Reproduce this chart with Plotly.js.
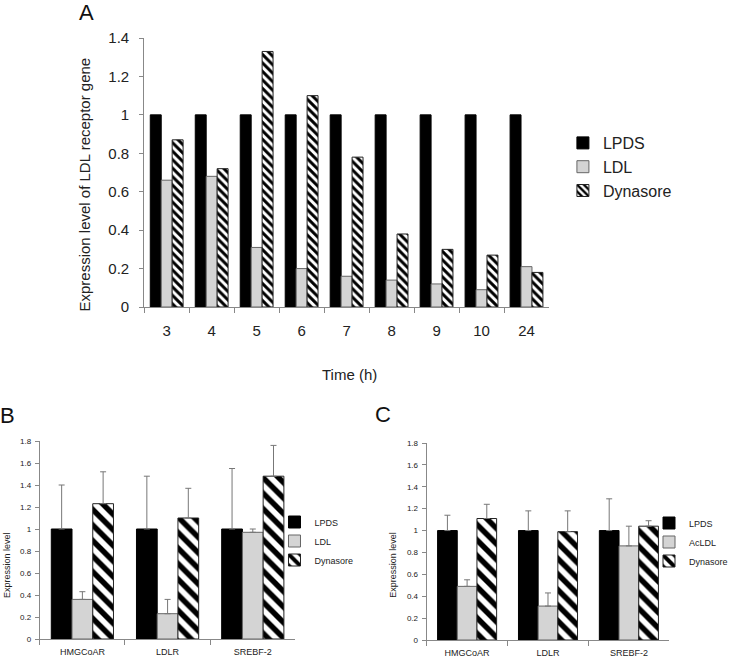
<!DOCTYPE html>
<html>
<head>
<meta charset="utf-8">
<script src="https://cdn.plot.ly/plotly-3.0.1.min.js"></script>
<style>html,body{margin:0;padding:0;background:#fff;}#chart{width:733px;height:664px;}</style>
</head>
<body>
<div id="chart"></div>
<script>
// Panel A data
const timeCats = ['3','4','5','6','7','8','9','10','24'];
const aLPDS = [1, 1, 1, 1, 1, 1, 1, 1, 1];
const aLDL = [0.66, 0.68, 0.31, 0.20, 0.16, 0.14, 0.12, 0.09, 0.21];
const aDyn = [0.87, 0.72, 1.33, 1.10, 0.78, 0.38, 0.30, 0.27, 0.18];

// Panel B data
const geneCats = ['HMGCoAR', 'LDLR', 'SREBF-2'];
const bLPDS = [1.0, 1.0, 1.0];
const bLPDSerr = [0.40, 0.48, 0.55];
const bLDL = [0.36, 0.23, 0.97];
const bLDLerr = [0.07, 0.13, 0.03];
const bDyn = [1.23, 1.10, 1.48];
const bDynerr = [0.29, 0.27, 0.28];

// Panel C data
const cLPDS = [1.0, 1.0, 1.0];
const cLPDSerr = [0.14, 0.18, 0.29];
const cAcLDL = [0.49, 0.31, 0.86];
const cAcLDLerr = [0.06, 0.12, 0.18];
const cDyn = [1.11, 0.99, 1.04];
const cDynerr = [0.13, 0.19, 0.05];

const W = 733, H = 664;
const px = v => v / W;
const py = v => 1 - v / H;

const FONT = 'Liberation Sans, Arial, sans-serif';
const GRAY = '#d4d4d4';

function errY(arr) {
  return {type: 'data', symmetric: false, array: arr, arrayminus: arr.map(() => 0),
          color: '#777', thickness: 1, width: 3};
}

const traces = [
  // A
  {type: 'bar', x: timeCats, y: aLPDS, name: 'LPDS', xaxis: 'x', yaxis: 'y', legend: 'legend',
   marker: {color: '#000', line: {color: '#000', width: 1}}},
  {type: 'bar', x: timeCats, y: aLDL, name: 'LDL', xaxis: 'x', yaxis: 'y', legend: 'legend',
   marker: {color: GRAY, line: {color: '#666', width: 1}}},
  {type: 'bar', x: timeCats, y: aDyn, name: 'Dynasore', xaxis: 'x', yaxis: 'y', legend: 'legend',
   marker: {color: '#fff', line: {color: '#222', width: 1},
            pattern: {shape: '\\', fgcolor: '#000', bgcolor: '#fff', size: 6, solidity: 0.5}}},
  // B
  {type: 'bar', x: geneCats, y: bLPDS, name: 'LPDS', xaxis: 'x2', yaxis: 'y2', legend: 'legend2',
   error_y: errY(bLPDSerr), marker: {color: '#000', line: {color: '#000', width: 1}}},
  {type: 'bar', x: geneCats, y: bLDL, name: 'LDL', xaxis: 'x2', yaxis: 'y2', legend: 'legend2',
   error_y: errY(bLDLerr), marker: {color: GRAY, line: {color: '#666', width: 1}}},
  {type: 'bar', x: geneCats, y: bDyn, name: 'Dynasore', xaxis: 'x2', yaxis: 'y2', legend: 'legend2',
   error_y: errY(bDynerr),
   marker: {color: '#fff', line: {color: '#222', width: 1},
            pattern: {shape: '\\', fgcolor: '#000', bgcolor: '#fff', size: 11, solidity: 0.5}}},
  // C
  {type: 'bar', x: geneCats, y: cLPDS, name: 'LPDS', xaxis: 'x3', yaxis: 'y3', legend: 'legend3',
   error_y: errY(cLPDSerr), marker: {color: '#000', line: {color: '#000', width: 1}}},
  {type: 'bar', x: geneCats, y: cAcLDL, name: 'AcLDL', xaxis: 'x3', yaxis: 'y3', legend: 'legend3',
   error_y: errY(cAcLDLerr), marker: {color: GRAY, line: {color: '#666', width: 1}}},
  {type: 'bar', x: geneCats, y: cDyn, name: 'Dynasore', xaxis: 'x3', yaxis: 'y3', legend: 'legend3',
   error_y: errY(cDynerr),
   marker: {color: '#fff', line: {color: '#222', width: 1},
            pattern: {shape: '\\', fgcolor: '#000', bgcolor: '#fff', size: 11, solidity: 0.5}}}
];

function xAx(domain, fs, anchor, standoff) {
  return {domain: domain, anchor: anchor, type: 'category', showgrid: false, zeroline: false,
          showline: true, linecolor: '#888', linewidth: 1, ticks: 'outside', tickson: 'boundaries',
          ticklen: 5, tickcolor: '#888', tickfont: {family: FONT, size: fs, color: '#222'},
          ticklabelstandoff: standoff, fixedrange: true};
}
function yAx(domain, range, dtick, fs, anchor, standoff) {
  return {domain: domain, anchor: anchor, range: range, dtick: dtick, showgrid: false, zeroline: false,
          showline: true, linecolor: '#888', linewidth: 1, ticks: 'outside', ticklen: 4,
          tickcolor: '#888', tickfont: {family: FONT, size: fs, color: '#222'},
          ticklabelstandoff: standoff, fixedrange: true};
}

const layout = {
  width: W, height: H,
  margin: {l: 0, r: 0, t: 0, b: 0},
  paper_bgcolor: '#fff', plot_bgcolor: '#fff',
  barmode: 'group', bargap: 0.27, bargroupgap: 0,
  font: {family: FONT, color: '#222'},
  xaxis: xAx([px(145), px(552)], 15, 'y', 10),
  yaxis: yAx([py(307), py(38)], [0, 1.4], 0.2, 15, 'x', 7),
  xaxis2: xAx([px(40), px(297)], 9, 'y2', 4),
  yaxis2: yAx([py(639), py(441)], [0, 1.8], 0.2, 8, 'x2', 2),
  xaxis3: xAx([px(429), px(673)], 9, 'y3', 4),
  yaxis3: yAx([py(640), py(443)], [0, 1.8], 0.2, 8, 'x3', 2),
  legend: {x: px(566), y: py(167), xanchor: 'left', yanchor: 'middle', bgcolor: 'rgba(0,0,0,0)',
           font: {family: FONT, size: 16, color: '#222'}, tracegroupgap: 0},
  legend2: {x: px(276), y: py(541), xanchor: 'left', yanchor: 'middle', bgcolor: 'rgba(0,0,0,0)',
            font: {family: FONT, size: 9, color: '#222'}, tracegroupgap: 0},
  legend3: {x: px(653), y: py(542), xanchor: 'left', yanchor: 'middle', bgcolor: 'rgba(0,0,0,0)',
            font: {family: FONT, size: 9, color: '#222'}, tracegroupgap: 0},
  showlegend: true,
  annotations: [
    {text: 'A', xref: 'paper', yref: 'paper', x: px(87), y: py(12), showarrow: false,
     font: {family: FONT, size: 22, color: '#111'}, xanchor: 'center', yanchor: 'middle'},
    {text: 'Expression level of LDL receptor gene', xref: 'paper', yref: 'paper', x: px(84), y: py(185),
     textangle: -90, showarrow: false, font: {family: FONT, size: 15, color: '#222'},
     xanchor: 'center', yanchor: 'middle'},
    {text: 'Time (h)', xref: 'paper', yref: 'paper', x: px(351), y: py(374), showarrow: false,
     font: {family: FONT, size: 15, color: '#222'}, xanchor: 'center', yanchor: 'middle'},
    {text: 'B', xref: 'paper', yref: 'paper', x: px(8), y: py(415), showarrow: false,
     font: {family: FONT, size: 22, color: '#111'}, xanchor: 'center', yanchor: 'middle'},
    {text: 'Expression level', xref: 'paper', yref: 'paper', x: px(7), y: py(565), textangle: -90,
     showarrow: false, font: {family: FONT, size: 9, color: '#222'}, xanchor: 'center', yanchor: 'middle'},
    {text: 'C', xref: 'paper', yref: 'paper', x: px(385), y: py(414), showarrow: false,
     font: {family: FONT, size: 22, color: '#111'}, xanchor: 'center', yanchor: 'middle'},
    {text: 'Expression level', xref: 'paper', yref: 'paper', x: px(395), y: py(565), textangle: -90,
     showarrow: false, font: {family: FONT, size: 9, color: '#222'}, xanchor: 'center', yanchor: 'middle'}
  ]
};

Plotly.newPlot('chart', traces, layout, {displayModeBar: false, staticPlot: true});
</script>
</body>
</html>
